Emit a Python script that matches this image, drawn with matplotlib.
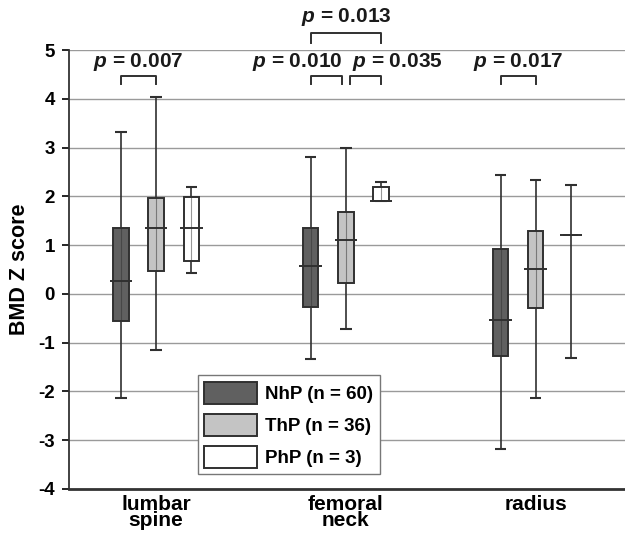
import numpy as np
import matplotlib
matplotlib.use("Agg")
import matplotlib.pyplot as plt
from matplotlib.patches import Patch

plt.rcParams['font.family'] = ['Liberation Sans', 'DejaVu Sans']
plt.rcParams['font.weight'] = 'bold'
plt.rcParams['mathtext.fontset'] = 'custom'
plt.rcParams['mathtext.it'] = 'Liberation Sans:italic:bold'
plt.rcParams['mathtext.rm'] = 'Liberation Sans:bold'

sites = ['lumbar\nspine', 'femoral\nneck', 'radius']
series = ['NhP (n = 60)', 'ThP (n = 36)', 'PhP (n = 3)']

# whisker low, box bottom, median, box top, whisker high (per site)
nhp_low = [-2.13, -1.34, -3.17]
nhp_q1 = [-0.55, -0.26, -1.28]
nhp_med = [0.27, 0.58, -0.54]
nhp_q3 = [1.35, 1.35, 0.92]
nhp_high = [3.32, 2.80, 2.44]

thp_low = [-1.15, -0.71, -2.13]
thp_q1 = [0.46, 0.22, -0.29]
thp_med = [1.35, 1.10, 0.52]
thp_q3 = [1.97, 1.68, 1.29]
thp_high = [4.03, 3.00, 2.34]

php_low = [0.43, 1.90, -1.31]
php_q1 = [0.68, 1.91, 1.21]
php_med = [1.35, 1.90, 1.21]
php_q3 = [1.98, 2.20, 1.21]
php_high = [2.20, 2.30, 2.23]

# (site, series a, series b, level, label)
comparisons = [
    (0, 0, 1, 0, 'p = 0.007'),
    (1, 0, 1, 0, 'p = 0.010'),
    (1, 1, 2, 0, 'p = 0.035'),
    (1, 0, 2, 1, 'p = 0.013'),
    (2, 0, 1, 0, 'p = 0.017'),
]

stats = [
    (nhp_low, nhp_q1, nhp_med, nhp_q3, nhp_high),
    (thp_low, thp_q1, thp_med, thp_q3, thp_high),
    (php_low, php_q1, php_med, php_q3, php_high),
]
colors = ['#606060', '#c4c4c4', 'white']
edge = '#303030'

fig = plt.figure(figsize=(6.25, 5.36), dpi=100)
ax = fig.add_axes([0.110, 0.0877, 0.890, 0.819])

x = np.arange(len(sites))
offsets = [-0.185, 0.0, 0.185]
box_w = 0.08
med_w = 0.12
cap_w = 0.06

for k, (lo, q1, med, q3, hi) in enumerate(stats):
    xs = x + offsets[k]
    lo, q1, med, q3, hi = map(np.array, (lo, q1, med, q3, hi))
    ax.vlines(xs, lo, hi, color=edge, lw=1.2, zorder=2)
    ax.hlines(lo, xs - cap_w / 2, xs + cap_w / 2, color=edge, lw=1.5, zorder=2)
    ax.hlines(hi, xs - cap_w / 2, xs + cap_w / 2, color=edge, lw=1.5, zorder=2)
    ax.bar(xs, q3 - q1, bottom=q1, width=box_w, color=colors[k],
           edgecolor=edge, lw=1.4, zorder=3)
    ax.vlines(xs, q1, q3, color=edge, lw=0.8, alpha=0.5, zorder=4)
    ax.hlines(med, xs - med_w / 2, xs + med_w / 2, color=edge, lw=1.4, zorder=5)

# significance brackets
levels = [(4.47, 4.30, 4.75), (5.35, 5.14, 5.68)]
for site, a, b, lev, label in comparisons:
    x0 = x[site] + offsets[a]
    x1 = x[site] + offsets[b]
    top, leg, ty = levels[lev]
    ha = 'center'
    tx = (x0 + x1) / 2
    if lev == 0 and site == 1:
        gap = 0.022
        if a == 0:
            x1 -= gap
            ha, tx = 'right', x1 + 0.005
        else:
            x0 += gap
            ha, tx = 'left', x0 + 0.01
    ax.plot([x0, x0, x1, x1], [leg, top, top, leg], color=edge, lw=1.4,
            clip_on=False, zorder=6)
    ax.text(tx, ty, '$p$' + label[1:], ha=ha, va='center',
            fontsize=15, fontweight='bold', color='#1a1a1a', clip_on=False)

ax.set_xlim(-0.46, 2.47)
ax.set_ylim(-4, 5)
ax.set_yticks(range(-4, 6))
ax.set_yticklabels([str(v) for v in range(-4, 6)], fontsize=13.5, fontweight='bold')
ax.set_xticks(x)
ax.set_xticklabels(sites, fontsize=15, fontweight='bold', linespacing=0.84)
ax.tick_params(axis='x', length=0, pad=4)
ax.tick_params(axis='y', length=5, width=1.2, direction='out', pad=5)
ax.set_ylabel('BMD Z score', fontsize=15.5, fontweight='bold', labelpad=6)

ax.grid(axis='y', color='#9a9a9a', lw=1.0)
ax.set_axisbelow(True)
for s in ['top', 'right']:
    ax.spines[s].set_visible(False)
ax.spines['left'].set_color('#333333')
ax.spines['left'].set_linewidth(1.3)
ax.spines['bottom'].set_color('#333333')
ax.spines['bottom'].set_linewidth(2.0)

handles = [Patch(facecolor=c, edgecolor=edge, lw=1.4) for c in colors]
leg = ax.legend(handles, series, loc='lower left', bbox_to_anchor=(0.232, 0.034),
                prop={'weight': 'bold', 'size': 13.5}, fancybox=False,
                edgecolor='#777777', framealpha=1, borderpad=0.35,
                handlelength=2.8, handleheight=1.4, labelspacing=0.55,
                handletextpad=0.45, borderaxespad=0)
leg.get_frame().set_linewidth(1.0)

fig.savefig('out.png', dpi=100)
